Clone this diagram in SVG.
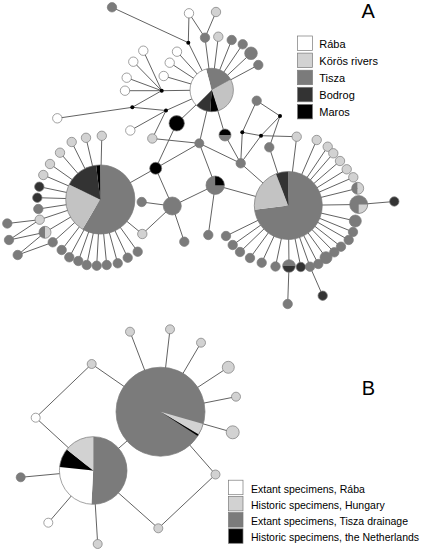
<svg xmlns="http://www.w3.org/2000/svg" width="430" height="552" viewBox="0 0 430 552">
<style>
.e line{stroke:#505050;stroke-width:0.9}
.n{stroke:#7a7a7a;stroke-width:0.7}
.t{fill:#7b7b7b}
.l{fill:#d2d2d2}
.lp{fill:#c3c3c3}
.w{fill:#fff}
.b{fill:#333}
.m{fill:#000}
.o{fill:none;stroke:#7a7a7a;stroke-width:0.7}
text{font-family:"Liberation Sans",Arial,sans-serif;fill:#000}
.lg{font-size:11px}
.lgb{font-size:10.5px}
.big{font-size:20px}
</style>
<rect width="430" height="552" fill="#fff"/>
<g id="connectors" class="e">
<line x1="112" y1="7.3" x2="188.3" y2="42.7"/>
<line x1="189" y1="13.3" x2="188.3" y2="42.7"/>
<line x1="188.3" y1="42.7" x2="211.7" y2="90"/>
<line x1="189" y1="13.3" x2="205" y2="37.7"/>
<line x1="216" y1="12" x2="205" y2="37.7"/>
<line x1="205" y1="37.7" x2="211.7" y2="90"/>
<line x1="218.3" y1="36.7" x2="211.7" y2="90"/>
<line x1="231.7" y1="40" x2="211.7" y2="90"/>
<line x1="242.7" y1="44.3" x2="211.7" y2="90"/>
<line x1="251" y1="53.3" x2="211.7" y2="90"/>
<line x1="258.3" y1="65" x2="211.7" y2="90"/>
<line x1="143.3" y1="50.7" x2="161.7" y2="90.7"/>
<line x1="133.3" y1="61.7" x2="161.7" y2="90.7"/>
<line x1="126.7" y1="77.7" x2="161.7" y2="90.7"/>
<line x1="125" y1="90.7" x2="161.7" y2="90.7"/>
<line x1="161.7" y1="90.7" x2="211.7" y2="90"/>
<line x1="177" y1="51.7" x2="211.7" y2="90"/>
<line x1="169.7" y1="62.7" x2="211.7" y2="90"/>
<line x1="163.7" y1="76" x2="211.7" y2="90"/>
<line x1="161.7" y1="90.7" x2="132.3" y2="107.3"/>
<line x1="132.3" y1="107.3" x2="57.3" y2="118.3"/>
<line x1="132.3" y1="107.3" x2="166" y2="110.5"/>
<line x1="166" y1="110.5" x2="211.7" y2="90"/>
<line x1="166" y1="110.5" x2="130.3" y2="130.5"/>
<line x1="166" y1="110.5" x2="152.3" y2="138.5"/>
<line x1="176.7" y1="123.3" x2="211.7" y2="90"/>
<line x1="176.7" y1="123.3" x2="155.7" y2="168.3"/>
<line x1="152.3" y1="138.5" x2="199.3" y2="143.3"/>
<line x1="199.3" y1="143.3" x2="211.7" y2="90"/>
<line x1="225" y1="135" x2="211.7" y2="90"/>
<line x1="199.3" y1="143.3" x2="155.7" y2="168.3"/>
<line x1="199.3" y1="143.3" x2="240.7" y2="163.3"/>
<line x1="199.3" y1="143.3" x2="215.2" y2="185.2"/>
<line x1="225" y1="135" x2="240.7" y2="163.3"/>
<line x1="155.7" y1="168.3" x2="100.3" y2="199.5"/>
<line x1="155.7" y1="168.3" x2="172.3" y2="206"/>
<line x1="172.3" y1="206" x2="215.2" y2="185.2"/>
<line x1="172.3" y1="206" x2="141.7" y2="202"/>
<line x1="172.3" y1="206" x2="142.3" y2="234"/>
<line x1="172.3" y1="206" x2="184.3" y2="241.7"/>
<line x1="215.2" y1="185.2" x2="208.3" y2="235"/>
<line x1="215.2" y1="185.2" x2="288.3" y2="205.5"/>
<line x1="240.7" y1="163.3" x2="288.3" y2="205.5"/>
<line x1="240.7" y1="163.3" x2="242.3" y2="132.3"/>
<line x1="240.7" y1="163.3" x2="261" y2="135.7"/>
<line x1="256.7" y1="100.7" x2="242.3" y2="132.3"/>
<line x1="256.7" y1="100.7" x2="280" y2="116"/>
<line x1="242.3" y1="132.3" x2="261" y2="135.7"/>
<line x1="261" y1="135.7" x2="296.7" y2="136.7"/>
<line x1="261" y1="135.7" x2="280" y2="116"/>
<line x1="280" y1="116" x2="269.3" y2="147.3"/>
<line x1="269.3" y1="147.3" x2="288.3" y2="205.5"/>
<line x1="296.7" y1="136.7" x2="288.3" y2="205.5"/>
<line x1="142.3" y1="234" x2="100.3" y2="199.5"/>
<!-- left pie spokes -->
<line x1="101.8" y1="135.8" x2="100.3" y2="199.5"/>
<line x1="86" y1="137.8" x2="100.3" y2="199.5"/>
<line x1="71.7" y1="142" x2="100.3" y2="199.5"/>
<line x1="60" y1="152.7" x2="100.3" y2="199.5"/>
<line x1="50" y1="164" x2="100.3" y2="199.5"/>
<line x1="43.3" y1="175" x2="100.3" y2="199.5"/>
<line x1="39.3" y1="186.7" x2="100.3" y2="199.5"/>
<line x1="37.3" y1="197.7" x2="100.3" y2="199.5"/>
<line x1="38.3" y1="209" x2="100.3" y2="199.5"/>
<line x1="39.7" y1="219.7" x2="100.3" y2="199.5"/>
<line x1="45" y1="232.3" x2="100.3" y2="199.5"/>
<line x1="52.7" y1="242.3" x2="100.3" y2="199.5"/>
<line x1="61.7" y1="250" x2="100.3" y2="199.5"/>
<line x1="69.3" y1="257.3" x2="100.3" y2="199.5"/>
<line x1="78.3" y1="261" x2="100.3" y2="199.5"/>
<line x1="86.7" y1="265" x2="100.3" y2="199.5"/>
<line x1="96.7" y1="265.7" x2="100.3" y2="199.5"/>
<line x1="106.7" y1="265" x2="100.3" y2="199.5"/>
<line x1="117.7" y1="263.3" x2="100.3" y2="199.5"/>
<line x1="127.7" y1="257.7" x2="100.3" y2="199.5"/>
<line x1="137.7" y1="251.7" x2="100.3" y2="199.5"/>
<line x1="7.3" y1="223.5" x2="39.7" y2="219.7"/>
<line x1="9" y1="240" x2="39.7" y2="219.7"/>
<line x1="9" y1="240" x2="45" y2="232.3"/>
<line x1="17.7" y1="255" x2="45" y2="232.3"/>
<line x1="17.7" y1="255" x2="52.7" y2="242.3"/>
<!-- right pie spokes -->
<line x1="316.7" y1="140" x2="288.3" y2="205.5"/>
<line x1="327.7" y1="146.7" x2="288.3" y2="205.5"/>
<line x1="333.3" y1="153.3" x2="288.3" y2="205.5"/>
<line x1="340" y1="161" x2="288.3" y2="205.5"/>
<line x1="346.7" y1="169.3" x2="288.3" y2="205.5"/>
<line x1="353.3" y1="177.3" x2="288.3" y2="205.5"/>
<line x1="357.7" y1="188.3" x2="288.3" y2="205.5"/>
<line x1="358.7" y1="204.5" x2="288.3" y2="205.5"/>
<line x1="355.3" y1="221" x2="288.3" y2="205.5"/>
<line x1="353" y1="232" x2="288.3" y2="205.5"/>
<line x1="348.7" y1="240" x2="288.3" y2="205.5"/>
<line x1="341" y1="246.7" x2="288.3" y2="205.5"/>
<line x1="334.3" y1="252.3" x2="288.3" y2="205.5"/>
<line x1="326" y1="257.7" x2="288.3" y2="205.5"/>
<line x1="318.3" y1="264" x2="288.3" y2="205.5"/>
<line x1="310" y1="266.7" x2="288.3" y2="205.5"/>
<line x1="300.8" y1="267" x2="288.3" y2="205.5"/>
<line x1="289" y1="266" x2="288.3" y2="205.5"/>
<line x1="275.5" y1="266.5" x2="288.3" y2="205.5"/>
<line x1="261.7" y1="262.7" x2="288.3" y2="205.5"/>
<line x1="250" y1="258" x2="288.3" y2="205.5"/>
<line x1="240" y1="252" x2="288.3" y2="205.5"/>
<line x1="232.7" y1="245" x2="288.3" y2="205.5"/>
<line x1="226" y1="236" x2="288.3" y2="205.5"/>
<line x1="358.7" y1="204.5" x2="394.3" y2="201.5"/>
<line x1="310" y1="266.7" x2="322.7" y2="295.7"/>
<line x1="289" y1="266" x2="287.7" y2="304"/>
<!-- panel B -->
<line x1="130" y1="331.7" x2="160.5" y2="411.7"/>
<line x1="170" y1="329.3" x2="160.5" y2="411.7"/>
<line x1="201" y1="342.7" x2="160.5" y2="411.7"/>
<line x1="228.3" y1="367.3" x2="160.5" y2="411.7"/>
<line x1="236" y1="396.7" x2="160.5" y2="411.7"/>
<line x1="232.7" y1="432.3" x2="160.5" y2="411.7"/>
<line x1="91.7" y1="364" x2="160.5" y2="411.7"/>
<line x1="91.7" y1="364" x2="35.7" y2="417.7"/>
<line x1="35.7" y1="417.7" x2="93.2" y2="470.5"/>
<line x1="20.7" y1="477.3" x2="93.2" y2="470.5"/>
<line x1="48.3" y1="522.7" x2="93.2" y2="470.5"/>
<line x1="97.7" y1="544" x2="93.2" y2="470.5"/>
<line x1="158.3" y1="528.3" x2="93.2" y2="470.5"/>
<line x1="158.3" y1="528.3" x2="215.5" y2="474.5"/>
<line x1="215.5" y1="474.5" x2="160.5" y2="411.7"/>
<line x1="93.2" y1="470.5" x2="160.5" y2="411.7"/>
</g>

<!-- Panel A pies -->
<g id="hubA">
<path class="t" d="M211.7,90 L206.08,69.04 A21.7,21.7 0 0 1 230.75,79.61 Z"/>
<path class="lp" d="M211.7,90 L230.75,79.61 A21.7,21.7 0 0 1 218.41,110.64 Z"/>
<path class="m" d="M211.7,90 L218.41,110.64 A21.7,21.7 0 0 1 210.19,111.65 Z"/>
<path class="b" d="M211.7,90 L210.19,111.65 A21.7,21.7 0 0 1 196.36,105.34 Z"/>
<path class="w" d="M211.7,90 L196.36,105.34 A21.7,21.7 0 0 1 206.08,69.04 Z"/>
<circle class="o" cx="211.7" cy="90" r="21.7"/>
</g>
<g id="leftPieA">
<path class="m" d="M100.3,199.5 L96.08,165.16 A34.6,34.6 0 0 1 100.3,164.9 Z"/>
<path class="t" d="M100.3,199.5 L100.3,164.9 A34.6,34.6 0 1 1 82.48,229.16 Z"/>
<path class="lp" d="M100.3,199.5 L82.48,229.16 A34.6,34.6 0 0 1 69.07,184.6 Z"/>
<path class="b" d="M100.3,199.5 L69.07,184.6 A34.6,34.6 0 0 1 96.08,165.16 Z"/>
<circle class="o" cx="100.3" cy="199.5" r="34.6"/>
</g>
<g id="rightPieA">
<path class="t" d="M288.3,205.5 L288.3,171.5 A34,34 0 1 1 254.58,209.82 Z"/>
<path class="lp" d="M288.3,205.5 L254.58,209.82 A34,34 0 0 1 275.89,173.84 Z"/>
<path class="b" d="M288.3,205.5 L275.89,173.84 A34,34 0 0 1 288.3,171.5 Z"/>
<circle class="o" cx="288.3" cy="205.5" r="34"/>
</g>

<!-- top nodes -->
<g id="a1"><circle class="n t" cx="112" cy="7.3" r="4.7"/></g>
<g id="a2"><circle class="n w" cx="189" cy="13.3" r="4.7"/></g>
<g id="a3"><circle class="n t" cx="205" cy="37.7" r="4.7"/></g>
<g id="a4"><circle class="n l" cx="216" cy="12" r="4.7"/></g>
<g id="a5"><circle class="n l" cx="218.3" cy="36.7" r="4.7"/></g>
<g id="a6"><circle class="n t" cx="231.7" cy="40" r="4.7"/></g>
<g id="a7"><circle class="n t" cx="242.7" cy="44.3" r="4.7"/></g>
<g id="a8"><circle class="n t" cx="251" cy="53.3" r="6.3"/></g>
<g id="a9"><circle class="n t" cx="258.3" cy="65" r="4.7"/></g>
<g id="a10"><circle class="n w" cx="143.3" cy="50.7" r="4.7"/></g>
<g id="a11"><circle class="n w" cx="177" cy="51.7" r="4.7"/></g>
<g id="a12"><circle class="n w" cx="133.3" cy="61.7" r="4.7"/></g>
<g id="a13"><circle class="n w" cx="169.7" cy="62.7" r="4.7"/></g>
<g id="a14"><circle class="n w" cx="163.7" cy="76" r="4.7"/></g>
<g id="a15"><circle class="n w" cx="126.7" cy="77.7" r="4.7"/></g>
<g id="a16"><circle class="n w" cx="125" cy="90.7" r="4.7"/></g>
<g id="a17"><circle class="n w" cx="57.3" cy="118.3" r="4.7"/></g>
<g id="a18"><circle class="n w" cx="130.3" cy="130.5" r="4.7"/></g>
<g id="a19"><circle class="n l" cx="152.3" cy="138.5" r="4.7"/></g>
<g id="dot1"><circle class="m" cx="188.3" cy="42.7" r="2"/></g>
<g id="dot2"><circle class="m" cx="161.7" cy="90.7" r="2"/></g>
<g id="dot3"><circle class="m" cx="132.3" cy="107.3" r="2"/></g>
<g id="dot4"><circle class="m" cx="166" cy="110.5" r="2"/></g>
<g id="dot5"><circle class="m" cx="242.3" cy="132.3" r="2"/></g>
<g id="dot6"><circle class="m" cx="261" cy="135.7" r="2"/></g>
<g id="dot7"><circle class="m" cx="280" cy="116" r="2"/></g>
<!-- center nodes -->
<g id="c1"><circle class="n m" cx="176.7" cy="123.3" r="7.7"/></g>
<g id="c2"><circle class="n m" cx="155.7" cy="168.3" r="6"/></g>
<g id="c3"><circle class="n t" cx="199.3" cy="143.3" r="4.5"/></g>
<g id="c4">
<path class="m" d="M219,135 A6,6 0 0 1 231,135 Z"/>
<path class="t" d="M231,135 A6,6 0 0 1 219,135 Z"/>
<circle class="o" cx="225" cy="135" r="6"/>
</g>
<g id="c5"><circle class="n t" cx="240.7" cy="163.3" r="4.7"/></g>
<g id="c6">
<circle class="t" cx="215.2" cy="185.2" r="9.2"/>
<path class="m" d="M215.2,185.2 L215.2,176 A9.2,9.2 0 0 1 224.4,185.2 Z"/>
<circle class="o" cx="215.2" cy="185.2" r="9.2"/>
</g>
<g id="c7"><circle class="n t" cx="172.3" cy="206" r="9"/></g>
<g id="c8"><circle class="n t" cx="141.7" cy="202" r="4.7"/></g>
<g id="c9"><circle class="n l" cx="142.3" cy="234" r="4.7"/></g>
<g id="c10"><circle class="n t" cx="184.3" cy="241.7" r="4.7"/></g>
<g id="c11"><circle class="n t" cx="208.3" cy="235" r="4.7"/></g>
<g id="c12"><circle class="n t" cx="256.7" cy="100.7" r="4.7"/></g>
<g id="c13"><circle class="n l" cx="296.7" cy="136.7" r="4.7"/></g>
<g id="c14"><circle class="n t" cx="269.3" cy="147.3" r="4.7"/></g>
<!-- left cluster -->
<g id="L1"><circle class="n l" cx="101.8" cy="135.8" r="4.7"/></g>
<g id="L2"><circle class="n l" cx="86" cy="137.8" r="4.7"/></g>
<g id="L3"><circle class="n l" cx="71.7" cy="142" r="4.7"/></g>
<g id="L4"><circle class="n l" cx="60" cy="152.7" r="4.7"/></g>
<g id="L5"><circle class="n l" cx="50" cy="164" r="4.7"/></g>
<g id="L6"><circle class="n l" cx="43.3" cy="175" r="4.7"/></g>
<g id="L7"><circle class="n b" cx="39.3" cy="186.7" r="4.7"/></g>
<g id="L8"><circle class="n b" cx="37.3" cy="197.7" r="4.7"/></g>
<g id="L9"><circle class="n t" cx="38.3" cy="209" r="4.7"/></g>
<g id="L10"><circle class="n l" cx="39.7" cy="219.7" r="4.7"/></g>
<g id="L11">
<path class="t" d="M45,226.3 A6,6 0 0 0 45,238.3 Z"/>
<path class="l" d="M45,226.3 A6,6 0 0 1 45,238.3 Z"/>
<circle class="o" cx="45" cy="232.3" r="6"/>
</g>
<g id="L12"><circle class="n t" cx="52.7" cy="242.3" r="4.7"/></g>
<g id="L13"><circle class="n t" cx="61.7" cy="250" r="4.7"/></g>
<g id="L14"><circle class="n t" cx="69.3" cy="257.3" r="4.7"/></g>
<g id="L15"><circle class="n t" cx="78.3" cy="261" r="4.7"/></g>
<g id="L16"><circle class="n t" cx="86.7" cy="265" r="4.7"/></g>
<g id="L17"><circle class="n t" cx="96.7" cy="265.7" r="4.7"/></g>
<g id="L18"><circle class="n t" cx="106.7" cy="265" r="4.7"/></g>
<g id="L19"><circle class="n t" cx="117.7" cy="263.3" r="4.7"/></g>
<g id="L20"><circle class="n t" cx="127.7" cy="257.7" r="4.7"/></g>
<g id="L21"><circle class="n t" cx="137.7" cy="251.7" r="4.7"/></g>
<g id="L22"><circle class="n t" cx="7.3" cy="223.5" r="4.7"/></g>
<g id="L23"><circle class="n t" cx="9" cy="240" r="4.7"/></g>
<g id="L24"><circle class="n t" cx="17.7" cy="255" r="4.7"/></g>
<!-- right cluster -->
<g id="R1"><circle class="n l" cx="316.7" cy="140" r="4.7"/></g>
<g id="R2"><circle class="n l" cx="327.7" cy="146.7" r="4.7"/></g>
<g id="R3"><circle class="n l" cx="333.3" cy="153.3" r="4.7"/></g>
<g id="R4"><circle class="n l" cx="340" cy="161" r="4.7"/></g>
<g id="R5"><circle class="n l" cx="346.7" cy="169.3" r="4.7"/></g>
<g id="R6"><circle class="n l" cx="353.3" cy="177.3" r="4.7"/></g>
<g id="R7">
<path class="t" d="M357.7,182.3 A6,6 0 0 0 357.7,194.3 Z"/>
<path class="l" d="M357.7,182.3 A6,6 0 0 1 357.7,194.3 Z"/>
<circle class="o" cx="357.7" cy="188.3" r="6"/>
</g>
<g id="R8">
<circle class="t" cx="358.7" cy="204.5" r="9"/>
<path class="l" d="M358.7,204.5 L367.7,204.5 A9,9 0 0 1 358.7,213.5 Z"/>
<circle class="o" cx="358.7" cy="204.5" r="9"/>
</g>
<g id="R9"><circle class="n t" cx="355.3" cy="221" r="6"/></g>
<g id="R10"><circle class="n t" cx="353" cy="232" r="4.7"/></g>
<g id="R11"><circle class="n t" cx="348.7" cy="240" r="4.7"/></g>
<g id="R12"><circle class="n t" cx="341" cy="246.7" r="4.7"/></g>
<g id="R13"><circle class="n t" cx="334.3" cy="252.3" r="4.7"/></g>
<g id="R14"><circle class="n t" cx="326" cy="257.7" r="6"/></g>
<g id="R15"><circle class="n t" cx="318.3" cy="264" r="4.7"/></g>
<g id="R16"><circle class="n t" cx="310" cy="266.7" r="4.7"/></g>
<g id="R17"><circle class="n b" cx="300.8" cy="267" r="4.7"/></g>
<g id="R18">
<path class="t" d="M282.7,266 A6.3,6.3 0 0 1 295.3,266 Z"/>
<path class="b" d="M295.3,266 A6.3,6.3 0 0 1 282.7,266 Z"/>
<circle class="o" cx="289" cy="266" r="6.3"/>
</g>
<g id="R19"><circle class="n t" cx="275.5" cy="266.5" r="4.7"/></g>
<g id="R20"><circle class="n t" cx="261.7" cy="262.7" r="4.7"/></g>
<g id="R21"><circle class="n t" cx="250" cy="258" r="4.7"/></g>
<g id="R22"><circle class="n t" cx="240" cy="252" r="4.7"/></g>
<g id="R23"><circle class="n t" cx="232.7" cy="245" r="4.7"/></g>
<g id="R24"><circle class="n t" cx="226" cy="236" r="4.7"/></g>
<g id="R25"><circle class="n b" cx="394.3" cy="201.5" r="4.7"/></g>
<g id="R26"><circle class="n b" cx="322.7" cy="295.7" r="4.7"/></g>
<g id="R27"><circle class="n t" cx="287.7" cy="304" r="4.7"/></g>

<!-- Panel B -->
<g id="bigPieB">
<circle class="t" cx="160.5" cy="411.7" r="44.5"/>
<path class="l" d="M160.5,411.7 L203.28,423.97 A44.5,44.5 0 0 1 198.65,434.62 Z"/>
<path class="m" d="M160.5,411.7 L198.65,434.62 A44.5,44.5 0 0 1 197.82,435.94 Z"/>
<circle class="o" cx="160.5" cy="411.7" r="44.5"/>
</g>
<g id="smallPieB">
<path class="t" d="M93.2,470.5 L93.2,436.7 A33.8,33.8 0 1 1 91.43,504.25 Z"/>
<path class="w" d="M93.2,470.5 L91.43,504.25 A33.8,33.8 0 0 1 59.59,466.97 Z"/>
<path class="m" d="M93.2,470.5 L59.59,466.97 A33.8,33.8 0 0 1 66.79,449.41 Z"/>
<path class="l" d="M93.2,470.5 L66.79,449.41 A33.8,33.8 0 0 1 93.2,436.7 Z"/>
<circle class="o" cx="93.2" cy="470.5" r="33.8"/>
</g>
<g id="b1"><circle class="n l" cx="130" cy="331.7" r="4.5"/></g>
<g id="b2"><circle class="n l" cx="170" cy="329.3" r="4.5"/></g>
<g id="b3"><circle class="n l" cx="201" cy="342.7" r="4.5"/></g>
<g id="b4"><circle class="n l" cx="228.3" cy="367.3" r="6"/></g>
<g id="b5"><circle class="n l" cx="236" cy="396.7" r="4.5"/></g>
<g id="b6"><circle class="n l" cx="232.7" cy="432.3" r="6.5"/></g>
<g id="b7"><circle class="n l" cx="91.7" cy="364" r="4.5"/></g>
<g id="b8"><circle class="n w" cx="35.7" cy="417.7" r="4.5"/></g>
<g id="b9"><circle class="n t" cx="20.7" cy="477.3" r="4.5"/></g>
<g id="b10"><circle class="n w" cx="48.3" cy="522.7" r="4.5"/></g>
<g id="b11"><circle class="n l" cx="97.7" cy="544" r="4.5"/></g>
<g id="b12"><circle class="n l" cx="158.3" cy="528.3" r="4.5"/></g>
<g id="b13"><circle class="n l" cx="215.5" cy="474.5" r="4.5"/></g>

<!-- Legends -->
<g id="legendA">
<rect class="n w" x="297.5" y="36" width="15" height="14.5"/>
<rect class="n l" x="297.5" y="53.1" width="15" height="14.5"/>
<rect class="n t" x="297.5" y="70.2" width="15" height="14.5"/>
<rect class="n b" x="297.5" y="87.3" width="15" height="14.5"/>
<rect class="n m" x="297.5" y="104.4" width="15" height="14.5"/>
<text class="lg" x="319.3" y="47.8">Rába</text>
<text class="lg" x="319.3" y="64.9">Körös rivers</text>
<text class="lg" x="319.3" y="82">Tisza</text>
<text class="lg" x="319.3" y="99.1">Bodrog</text>
<text class="lg" x="319.3" y="116.2">Maros</text>
</g>
<g id="legendB">
<rect class="n w" x="228.5" y="480.2" width="14.5" height="14.5"/>
<rect class="n l" x="228.5" y="496.4" width="14.5" height="14.5"/>
<rect class="n t" x="228.5" y="512.6" width="14.5" height="14.5"/>
<rect class="n m" x="228.5" y="528.8" width="14.5" height="14.5"/>
<text class="lgb" x="251" y="492.6">Extant specimens, Rába</text>
<text class="lgb" x="251" y="508.8">Historic specimens, Hungary</text>
<text class="lgb" x="251" y="525">Extant specimens, Tisza drainage</text>
<text class="lgb" x="251" y="541.2">Historic specimens, the Netherlands</text>
</g>
<g id="labels">
<text class="big" x="361.5" y="18.3">A</text>
<text class="big" x="361.7" y="395">B</text>
</g>
</svg>
